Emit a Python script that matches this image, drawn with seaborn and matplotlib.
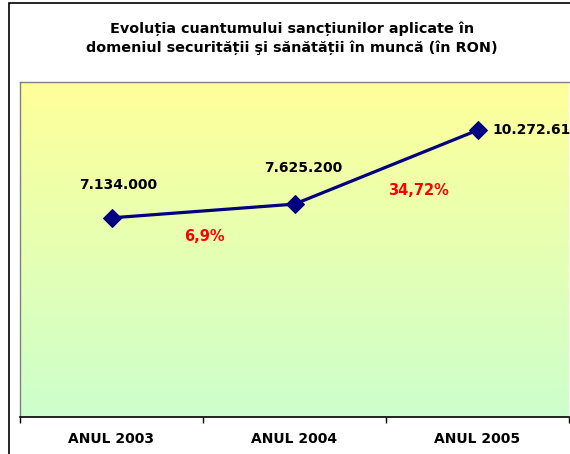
import seaborn as sns
import matplotlib.pyplot as plt
import matplotlib.patches as mpatches
import numpy as np
import pandas as pd

years = ['ANUL 2003', 'ANUL 2004', 'ANUL 2005']
amounts = [7134000, 7625200, 10272610]
amount_labels = ['7.134.000', '7.625.200', '10.272.610']
growth_labels = ['6,9%', '34,72%']
title = ('Evoluția cuantumului sancțiunilor aplicate în\n'
         'domeniul securității şi sănătății în muncă (în RON)')


def main():
    sns.set_style('white')
    plt.rcParams['font.family'] = ['DejaVu Sans']
    plt.rcParams['text.color'] = 'black'
    plt.rcParams['xtick.color'] = 'black'

    df = pd.DataFrame({'an': years, 'suma': amounts})

    fig = plt.figure(figsize=(5.7, 4.54), dpi=100)
    ax = fig.add_axes([20 / 570, 1 - 417 / 454, 549 / 570, 335 / 454])

    # outer frame of the chart object
    fig.patches.append(mpatches.Rectangle(
        (9 / 570, -0.1), 1.2, 1 - 3 / 454 + 0.1, transform=fig.transFigure,
        fill=False, edgecolor='#000000', linewidth=1.2, zorder=0))

    # yellow -> light green gradient background
    grad = np.linspace(0, 1, 256).reshape(-1, 1)
    top = np.array([1.0, 1.0, 0.6])
    bottom = np.array([0.8, 1.0, 0.8])
    img = top + (bottom - top) * grad[:, :, None]
    ax.imshow(img, extent=[0, 1, 0, 1], transform=ax.transAxes,
              aspect='auto', zorder=0)

    sns.lineplot(data=df, x='an', y='suma', ax=ax, color='#000080',
                 linewidth=2.3, marker='D', markersize=9,
                 markeredgecolor='#000080', sort=False, zorder=3)

    ax.set_xlim(-0.5, 2.5)
    ax.set_ylim(0, 12000000)
    ax.set_yticks([])
    ax.set_xlabel('')
    ax.set_ylabel('')

    ax.set_xticks(range(len(years)))
    ax.set_xticklabels(years, fontsize=10, fontweight='bold', color='black')
    ax.set_xticks([-0.5, 0.5, 1.5, 2.5], minor=True)
    ax.tick_params(axis='x', which='major', length=0, pad=11)
    ax.tick_params(axis='x', which='minor', length=4, width=1,
                   direction='out', color='black', bottom=True)

    for side in ['top', 'left', 'right']:
        ax.spines[side].set_color('#808080')
        ax.spines[side].set_linewidth(1)
    ax.spines['right'].set_visible(False)
    ax.spines['bottom'].set_color('black')
    ax.spines['bottom'].set_linewidth(1.2)

    offsets = [(7, 33), (9, 36), (15, 0)]
    aligns = ['center', 'center', 'left']
    for i, lab in enumerate(amount_labels):
        ax.annotate(lab, (i, amounts[i]), xytext=offsets[i],
                    textcoords='offset pixels', ha=aligns[i], va='center',
                    fontsize=10, fontweight='bold', color='black',
                    annotation_clip=False)

    ax.text(0.51, 6450000, growth_labels[0], ha='center', va='center',
            fontsize=10.5, fontweight='bold', color='#FF0000')
    ax.text(1.68, 8110000, growth_labels[1], ha='center', va='center',
            fontsize=10.5, fontweight='bold', color='#FF0000')

    fig.text(292 / 570, 1 - 38 / 454, title, ha='center', va='center',
             fontsize=10.4, fontweight='bold', linespacing=1.35,
             color='black')

    fig.savefig('out.png', dpi=100)


if __name__ == '__main__':
    main()
